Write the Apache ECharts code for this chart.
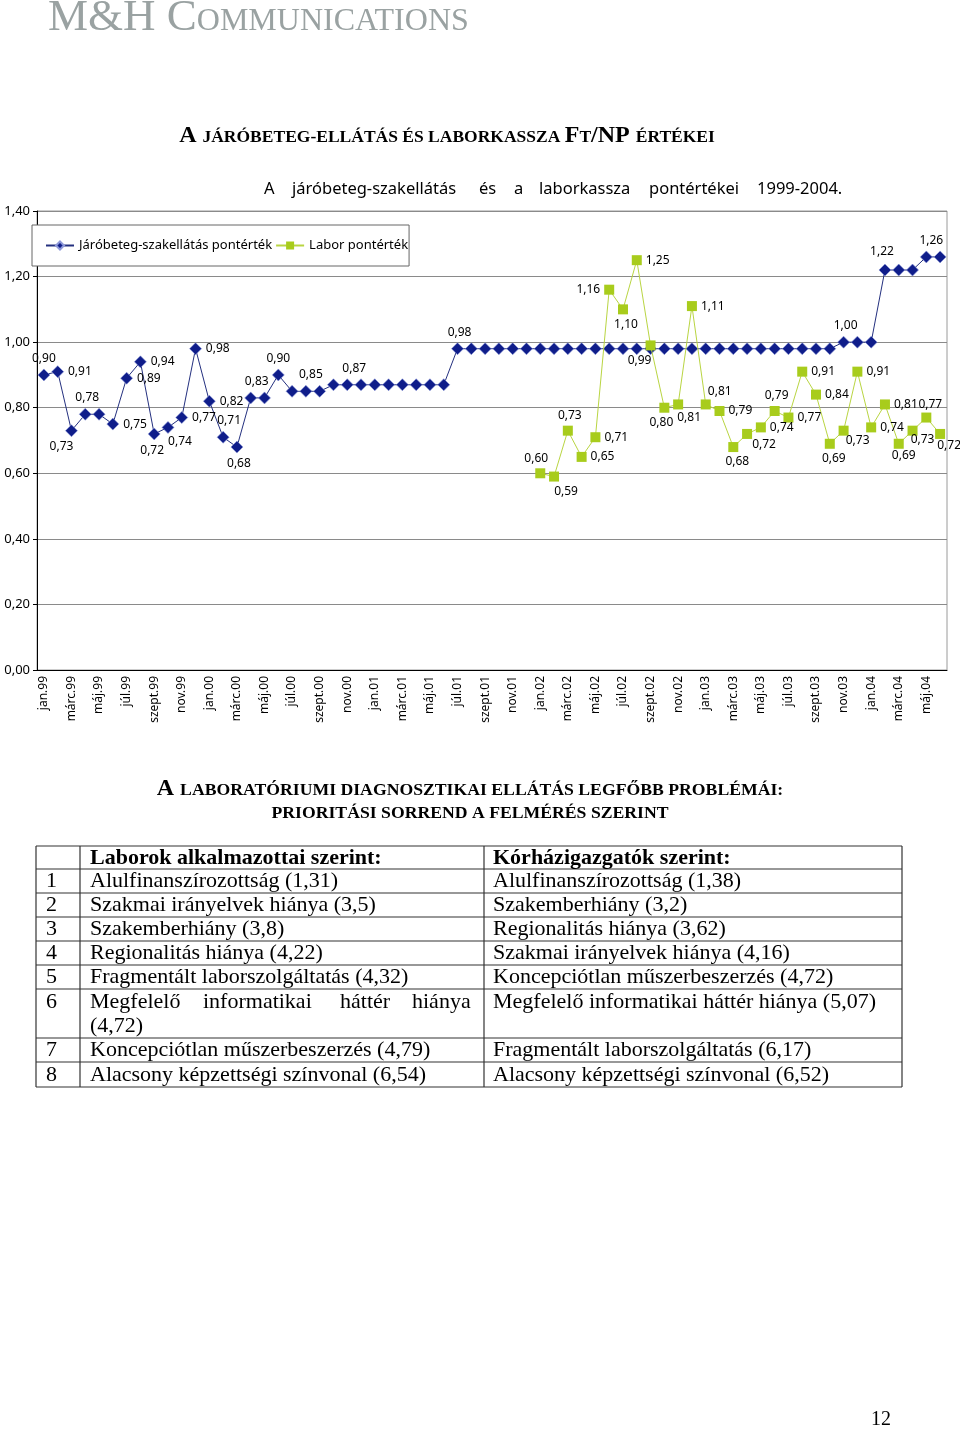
<!DOCTYPE html>
<html>
<head>
<meta charset="utf-8">
<script src="https://cdn.jsdelivr.net/npm/echarts@6/dist/echarts.min.js"></script>
<style>
html,body{margin:0;padding:0;background:#fff;}
#chart{width:960px;height:1430px;}
</style>
</head>
<body>
<div id="chart"></div>
<script>
// ---------- DATA ----------
const categories = [
  'jan.99','febr.99','márc.99','ápr.99','máj.99','jún.99','júl.99','aug.99','szept.99','okt.99','nov.99','dec.99',
  'jan.00','febr.00','márc.00','ápr.00','máj.00','jún.00','júl.00','aug.00','szept.00','okt.00','nov.00','dec.00',
  'jan.01','febr.01','márc.01','ápr.01','máj.01','jún.01','júl.01','aug.01','szept.01','okt.01','nov.01','dec.01',
  'jan.02','febr.02','márc.02','ápr.02','máj.02','jún.02','júl.02','aug.02','szept.02','okt.02','nov.02','dec.02',
  'jan.03','febr.03','márc.03','ápr.03','máj.03','jún.03','júl.03','aug.03','szept.03','okt.03','nov.03','dec.03',
  'jan.04','febr.04','márc.04','ápr.04','máj.04','jún.04'
];
const jaroValues = [
  0.90,0.91,0.73,0.78,0.78,0.75,0.89,0.94,0.72,0.74,0.77,0.98,
  0.82,0.71,0.68,0.83,0.83,0.90,0.85,0.85,0.85,0.87,0.87,0.87,
  0.87,0.87,0.87,0.87,0.87,0.87,0.98,0.98,0.98,0.98,0.98,0.98,
  0.98,0.98,0.98,0.98,0.98,0.98,0.98,0.98,0.98,0.98,0.98,0.98,
  0.98,0.98,0.98,0.98,0.98,0.98,0.98,0.98,0.98,0.98,1.00,1.00,
  1.00,1.22,1.22,1.22,1.26,1.26
];
const laborValues = [
  null,null,null,null,null,null,null,null,null,null,null,null,
  null,null,null,null,null,null,null,null,null,null,null,null,
  null,null,null,null,null,null,null,null,null,null,null,null,
  0.60,0.59,0.73,0.65,0.71,1.16,1.10,1.25,0.99,0.80,0.81,1.11,
  0.81,0.79,0.68,0.72,0.74,0.79,0.77,0.91,0.84,0.69,0.73,0.91,
  0.74,0.81,0.69,0.73,0.77,0.72
];
const seriesNames = ['Járóbeteg-szakellátás pontérték', 'Labor pontérték'];
const yTicks = [0, 0.2, 0.4, 0.6, 0.8, 1.0, 1.2, 1.4];

const tableHeader = ['', 'Laborok alkalmazottai szerint:', 'Kórházigazgatók szerint:'];
const rankNumbers = ['1','2','3','4','5','6','7','8'];
const laborRows = [
  'Alulfinanszírozottság (1,31)',
  'Szakmai irányelvek hiánya (3,5)',
  'Szakemberhiány (3,8)',
  'Regionalitás hiánya (4,22)',
  'Fragmentált laborszolgáltatás (4,32)',
  'Megfelelő informatikai háttér hiánya (4,72)',
  'Koncepciótlan műszerbeszerzés (4,79)',
  'Alacsony képzettségi színvonal (6,54)'
];
const directorRows = [
  'Alulfinanszírozottság (1,38)',
  'Szakemberhiány (3,2)',
  'Regionalitás hiánya (3,62)',
  'Szakmai irányelvek hiánya (4,16)',
  'Koncepciótlan műszerbeszerzés (4,72)',
  'Megfelelő informatikai háttér hiánya (5,07)',
  'Fragmentált laborszolgáltatás (6,17)',
  'Alacsony képzettségi színvonal (6,52)'
];

// ---------- STYLE: which points carry a data label and where ----------
const jaroLabelPlace = {
  0:['top',0,0], 1:['right',0,0], 2:['bottom',-10,0], 3:['top',2,0], 5:['right',0,0],
  6:['right',0,0], 7:['right',0,0], 8:['bottom',-2,0], 9:['bottom',12,-2], 10:['right',0,0],
  11:['right',0,0], 12:['right',0,0], 13:['top',6,0], 14:['bottom',2,0], 15:['top',6,0],
  17:['top',0,0], 19:['top',5,0], 22:['top',7,0], 30:['top',2,0], 58:['top',2,0],
  61:['top',-3,-2], 64:['top',5,0]
};
const laborLabelPlace = {
  36:['top',-4,0], 37:['bottom',12,0], 38:['top',2,0], 39:['right',0,0], 40:['right',0,0],
  41:['left',0,0], 42:['bottom',3,0], 43:['right',0,0], 44:['bottom',-11,0], 45:['bottom',-3,0],
  46:['bottom',11,-2], 47:['right',0,0], 48:['top',14,2], 49:['right',0,0], 50:['bottom',4,0],
  51:['bottom',17,-4], 52:['right',0,0], 53:['top',2,0], 54:['right',0,0], 55:['right',0,0],
  56:['right',0,0], 57:['bottom',4,0], 58:['bottom',14,-5], 59:['right',0,0], 60:['right',0,0],
  61:['right',0,0], 62:['bottom',5,-3], 63:['bottom',10,-6], 64:['top',4,2], 65:['bottom',9,-3]
};

const fmt = v => v.toFixed(2).replace('.', ',');
function withLabels(values, place) {
  return values.map((v, i) => {
    const p = place[i];
    if (v === null || !p) return v;
    return { value: v, label: { show: true, position: p[0], offset: [p[1], p[2]] } };
  });
}

const SANS = '"Noto Sans", "Open Sans", sans-serif';
const SERIF = '"Liberation Serif", "DejaVu Serif", serif';

// ---------- TABLE GRAPHICS ----------
const tbl = { x0: 36, x1: 80, x2: 484, x3: 902,
  rows: [846, 869, 893, 917, 941, 965, 989, 1038, 1062, 1087] };
const graphics = [];
const lineColor = '#333';
tbl.rows.forEach(y => graphics.push({ type: 'line', shape: { x1: tbl.x0, y1: y, x2: tbl.x3, y2: y },
  style: { stroke: lineColor, lineWidth: 1.2 } }));
[tbl.x0, tbl.x1, tbl.x2, tbl.x3].forEach(x => graphics.push({ type: 'line',
  shape: { x1: x, y1: tbl.rows[0], x2: x, y2: tbl.rows[tbl.rows.length - 1] },
  style: { stroke: lineColor, lineWidth: 1.2 } }));
const CELL_FONT = 22;
function cellText(txt, x, y, bold) {
  graphics.push({ type: 'text', x: x, y: y, style: { text: txt, font: (bold ? 'bold ' : '') + CELL_FONT + 'px ' + SERIF,
    fill: '#000', align: 'left', verticalAlign: 'middle' } });
}
cellText(tableHeader[1], 90, 858, true);
cellText(tableHeader[2], 493, 858, true);
const rowMid = [881, 905, 929, 953.5, 977.5, 1002, 1050.5, 1075];
rankNumbers.forEach((n, i) => cellText(n, 46, rowMid[i], false));
laborRows.forEach((t, i) => {
  if (i === 5) {
    const words = t.split(' ');
    const xs = [90, 203, 340, 412];
    for (let k = 0; k < 4; k++) cellText(words[k], xs[k], rowMid[i], false);
    cellText(words.slice(4).join(' '), 90, 1026, false);
  } else cellText(t, 90, rowMid[i], false);
});
directorRows.forEach((t, i) => cellText(t, 493, rowMid[i], false));

// headings
graphics.push({ type: 'text', x: 48, y: 41, style: {
  text: '{a|M&H C}{b|OMMUNICATIONS}', align: 'left', verticalAlign: 'bottom',
  rich: { a: { font: '45px ' + SERIF, fill: '#9aa2a2', verticalAlign: 'bottom', lineHeight: 48 },
          b: { font: '32px ' + SERIF, fill: '#9aa2a2', verticalAlign: 'bottom', lineHeight: 48, padding: [0,0,3,0] } } } });
const capsRich = (big, small) => ({
  b: { font: 'bold ' + big + 'px ' + SERIF, fill: '#000', verticalAlign: 'bottom', lineHeight: big + 4 },
  s: { font: 'bold ' + small + 'px ' + SERIF, fill: '#000', verticalAlign: 'bottom', lineHeight: big + 4, padding: [0,0,1.5,0] }
});
graphics.push({ type: 'text', x: 447, y: 134, style: {
  text: '{b|A }{s|JÁRÓBETEG-ELLÁTÁS ÉS LABORKASSZA }{b|F}{s|T}{b|/NP }{s|ÉRTÉKEI}',
  align: 'center', verticalAlign: 'middle', rich: capsRich(24, 17.5) } });
graphics.push({ type: 'text', x: 470, y: 787, style: {
  text: '{b|A }{s|LABORATÓRIUMI DIAGNOSZTIKAI ELLÁTÁS LEGFŐBB PROBLÉMÁI:}',
  align: 'center', verticalAlign: 'middle', rich: capsRich(24, 17.7) } });
graphics.push({ type: 'text', x: 470, y: 810, style: {
  text: '{s|PRIORITÁSI SORREND A FELMÉRÉS SZERINT}',
  align: 'center', verticalAlign: 'middle', rich: capsRich(24, 17.7) } });
// chart subtitle (justified words)
const subWords = ['A', 'járóbeteg-szakellátás', 'és', 'a', 'laborkassza', 'pontértékei', '1999-2004.'];
const subX = [264, 292, 479, 514, 539, 649, 757];
subWords.forEach((w, i) => graphics.push({ type: 'text', x: subX[i], y: 189, style: {
  text: w, font: '16.5px ' + SANS, fill: '#000', align: 'left', verticalAlign: 'middle' } }));
// page number
graphics.push({ type: 'text', x: 881, y: 1420, style: { text: '12', font: '20px ' + SERIF, fill: '#000',
  align: 'center', verticalAlign: 'middle' } });

// ---------- CHART ----------
const chart = echarts.init(document.getElementById('chart'), null, { renderer: 'canvas' });
chart.setOption({
  backgroundColor: '#fff',
  animation: false,
  textStyle: { fontFamily: SANS },
  grid: { left: 37, right: 13, top: 211, bottom: 760, show: true, borderColor: '#9a9a9a', borderWidth: 1 },
  legend: {
    data: seriesNames, left: 32, top: 225, orient: 'horizontal',
    backgroundColor: '#fff', borderColor: '#666', borderWidth: 1,
    padding: [14, 1, 14, 13], itemWidth: 28, itemHeight: 10, itemGap: 3,
    textStyle: { fontSize: 13, color: '#000', fontFamily: SANS }
  },
  xAxis: {
    type: 'category', data: categories, boundaryGap: true,
    axisLine: { lineStyle: { color: '#000', width: 1 } },
    axisTick: { interval: 1, length: 5, lineStyle: { color: '#000' } },
    axisLabel: { interval: 1, rotate: 90, fontSize: 12, color: '#000', margin: 6, fontFamily: SANS },
    splitLine: { show: false }
  },
  yAxis: {
    type: 'value', min: yTicks[0], max: yTicks[yTicks.length - 1], interval: yTicks[1] - yTicks[0],
    axisLine: { show: true, lineStyle: { color: '#000', width: 1 } },
    axisTick: { show: true, length: 4, lineStyle: { color: '#000' } },
    axisLabel: { formatter: v => fmt(v), fontSize: 13, color: '#000', margin: 7, fontFamily: SANS },
    splitLine: { lineStyle: { color: '#8a8a8a', width: 1 } }
  },
  series: [
    {
      name: seriesNames[0], type: 'line', data: withLabels(jaroValues, jaroLabelPlace),
      symbol: 'diamond', symbolSize: [12, 12], showAllSymbol: true,
      lineStyle: { color: '#24307f', width: 1 },
      itemStyle: { color: '#0f1d8a', borderColor: '#8d98d8', borderWidth: 0.6 },
      label: { show: false, formatter: p => fmt(p.value), fontSize: 12, color: '#000', distance: 4, fontFamily: SANS },
      emphasis: { disabled: true }, z: 3
    },
    {
      name: seriesNames[1], type: 'line', data: withLabels(laborValues, laborLabelPlace),
      symbol: 'rect', symbolSize: 10, showAllSymbol: true, connectNulls: false,
      lineStyle: { color: '#b9d542', width: 1 },
      itemStyle: { color: '#a8cc1c' },
      label: { show: false, formatter: p => fmt(p.value), fontSize: 12, color: '#000', distance: 4, fontFamily: SANS },
      emphasis: { disabled: true }, z: 4
    }
  ],
  graphic: graphics
});
</script>
</body>
</html>
